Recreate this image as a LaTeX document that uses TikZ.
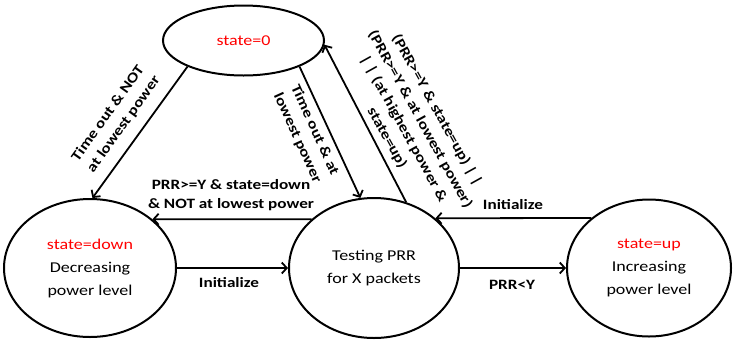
\documentclass[tikz,border=0pt]{standalone}
\usepackage{fontspec}
\setmainfont{Carlito}[FakeStretch=1.2]
\usetikzlibrary{arrows.meta,shapes.geometric}
\begin{document}
\begin{tikzpicture}[x=1pt,y=-1pt,
  st/.style={draw, ellipse, line width=2pt, inner sep=0pt, align=center, font=\fontsize{15}{23}\selectfont},
  lbl/.style={font=\fontsize{14.3}{19}\selectfont\bfseries, align=center, inner sep=0pt},
  arr/.style={line width=1.8pt, -{Straight Barb[length=5pt,width=11pt]}},
  hot/.style={text=red}
]
\useasboundingbox (0,0) rectangle (733,346);
\node[st, minimum width=161pt, minimum height=70pt] (s0) at (243.5,40.5) {\textcolor{red}{state=0}};
\node[st, minimum width=172pt, minimum height=138pt] (down) at (90,268) {\textcolor{red}{state=down}\\Decreasing\\power level};
\node[st, minimum width=170pt, minimum height=140pt] (test) at (374,268) {Testing PRR\\for X packets};
\node[st, minimum width=164pt, minimum height=137pt] (up) at (649,268) {\textcolor{red}{state=up}\\Increasing\\power level};

\draw[arr] (s0.205) -- (down.88);
\draw[arr] (s0.335) -- (test.101);
\draw[arr] (test.64) -- (s0.357);
\draw[arr] (test.142) -- (down.38);
\draw[arr] (up.139) -- (test.39);
\draw[arr] (down.east) -- (test.west);
\draw[arr] (test.east) -- (up.west);

\node[lbl, rotate=54.5] (l1) at (116,119) {Time out \& NOT\\at lowest power};
\node[lbl, rotate=-65.5] (l2) at (306,134) {Time out \& at\\lowest power};
\node[lbl, rotate=-61] (l3) at (412,124) {(PRR>=Y \& state=up) | |\\(PRR>=Y \& at lowest power)\\| | (at highest power \&\\state=up)};
\node[lbl] (l4) at (231,195.5) {PRR>=Y \& state=down\\\& NOT at lowest power};
\node[lbl] (l5) at (229,283) {Initialize};
\node[lbl] (l6) at (512,285) {PRR<Y};
\node[lbl] (l7) at (513,205) {Initialize};
\end{tikzpicture}
\end{document}
